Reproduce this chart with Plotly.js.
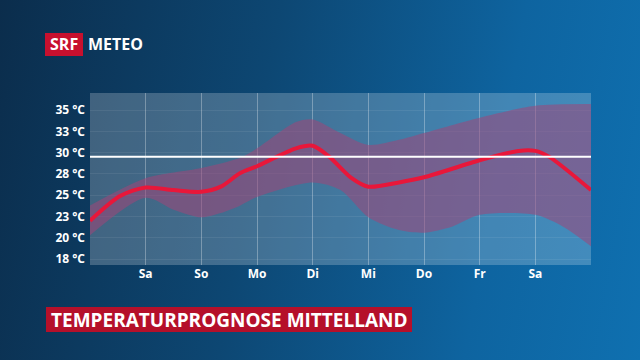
<!DOCTYPE html>
<html><head><meta charset="utf-8">
<script src="https://cdn.plot.ly/plotly-3.0.1.min.js"></script>
<style>
html,body{margin:0;padding:0;width:640px;height:360px;overflow:hidden;
background:linear-gradient(100deg,#0b2d4c 0%,#0d4773 40%,#0e64a0 75%,#0f70b0 100%);}
#chart{width:640px;height:360px;}
</style></head><body><div id="chart"></div>
<script>
// Days: 0 = Fr ... 9 ; ticks at 1..8
const tickDays = [1,2,3,4,5,6,7,8];
const tickLabels = ['Sa','So','Mo','Di','Mi','Do','Fr','Sa'];
const yTickVals = [35,32.5,30,27.5,25,22.5,20,17.5];
const yTickText = ['35 °C','33 °C','30 °C','28 °C','25 °C','23 °C','20 °C','18 °C'];

const medX = [0,0.54,1,1.5,2,2.35,2.7,3,3.7,4,4.3,4.7,5,5.55,6,7,7.7,8,8.25,9];
const medY = [22.0,24.9,25.9,25.6,25.4,26.0,27.6,28.4,30.5,30.8,29.5,27.0,26.0,26.5,27.1,29.1,30.2,30.2,29.5,25.6];

const upX = [0,1,2,2.7,3,3.7,4,4.5,5,5.55,6,7,8,9];
const upY = [23.8,27.0,28.2,29.4,30.5,33.6,33.9,32.3,30.9,31.5,32.3,34.1,35.5,35.7];

const loX = [0,1,1.5,2,2.35,2.7,3,4,4.5,5,5.55,6,6.5,7,8,8.5,9];
const loY = [20.3,24.7,23.3,22.4,22.9,23.8,24.8,26.5,25.6,22.4,20.9,20.6,21.3,22.7,22.7,21.3,19.0];

const refLine = 29.5;

const px = x => (x-90)/501;
const py = y => (265-y)/172;

const traces = [
  {x:loX,y:loY,mode:'lines',line:{width:0,shape:'spline',smoothing:0.8},hoverinfo:'skip',showlegend:false},
  {x:upX,y:upY,mode:'lines',line:{width:0,shape:'spline',smoothing:0.8},fill:'tonexty',fillcolor:'rgba(160,70,120,0.55)',hoverinfo:'skip',showlegend:false},
  {x:medX,y:medY,mode:'lines',line:{width:4,color:'#e8173a',shape:'spline',smoothing:0.8},hoverinfo:'skip',showlegend:false}
];

const layout = {
  width:640,height:360,
  margin:{l:90,r:49,t:93,b:95},
  paper_bgcolor:'rgba(0,0,0,0)',
  plot_bgcolor:'rgba(255,255,255,0.22)',
  font:{family:'"Open Sans", sans-serif',color:'#ffffff'},
  xaxis:{range:[0,9],tickvals:tickDays,ticktext:tickLabels,showgrid:true,gridcolor:'rgba(255,255,255,0.3)',gridwidth:1,
         zeroline:false,showline:false,ticks:'',tickfont:{size:12,color:'#fff',family:'"Open Sans", sans-serif',weight:'bold'},fixedrange:true},
  yaxis:{range:[16.8,37],tickvals:yTickVals,ticktext:yTickText,showgrid:true,gridcolor:'rgba(255,255,255,0.07)',
         zeroline:false,showline:false,ticks:'',ticklabelstandoff:4,tickfont:{size:12,color:'#fff',family:'"Open Sans", sans-serif',weight:'bold'},fixedrange:true},
  shapes:[
    {type:'line',xref:'paper',x0:0,x1:1,yref:'y',y0:refLine,y1:refLine,line:{color:'#ffffff',width:2}},
    {type:'rect',xref:'paper',yref:'paper',x0:px(45),x1:px(83),y0:py(56),y1:py(33),fillcolor:'#c8102e',line:{width:0}},
    {type:'rect',xref:'paper',yref:'paper',x0:px(46),x1:px(412),y0:py(332),y1:py(307),fillcolor:'#b5102a',line:{width:0}}
  ],
  annotations:[
    {xref:'paper',yref:'paper',x:px(64),y:py(44.5),text:'<b>SRF</b>',showarrow:false,xanchor:'center',yanchor:'middle',font:{size:16,color:'#fff',family:'"Open Sans", sans-serif'}},
    {xref:'paper',yref:'paper',x:px(86),y:py(44.5),text:'<b>METEO</b>',showarrow:false,xanchor:'left',yanchor:'middle',font:{size:16,color:'#fff',family:'"Open Sans", sans-serif'}},
    {xref:'paper',yref:'paper',x:px(229),y:py(319.5),text:'<b>TEMPERATURPROGNOSE MITTELLAND</b>',showarrow:false,xanchor:'center',yanchor:'middle',font:{size:19,color:'#fff',family:'"Open Sans", sans-serif'}}
  ]
};
Plotly.newPlot('chart',traces,layout,{displayModeBar:false,staticPlot:true});
</script></body></html>
